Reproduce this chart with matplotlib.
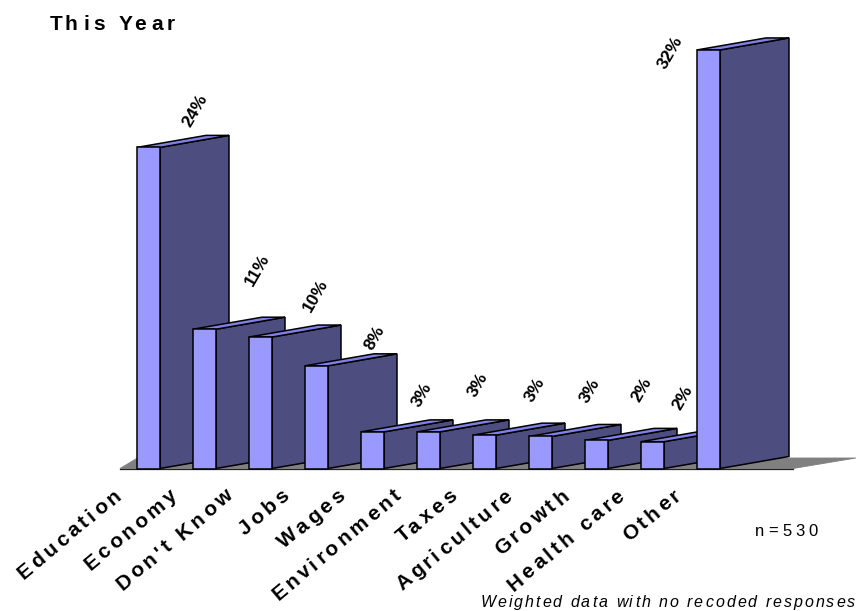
import numpy as np
import matplotlib
matplotlib.use("Agg")
import matplotlib.pyplot as plt
from matplotlib.patches import Polygon
from matplotlib.text import Text
from matplotlib.transforms import Bbox

plt.rcParams['font.family'] = ['Liberation Sans', 'DejaVu Sans']

categories = ["Education", "Economy", "Don't Know", "Jobs", "Wages", "Environment",
              "Taxes", "Agriculture", "Growth", "Health care", "Other"]
values = [24.55, 10.65, 10.05, 7.85, 2.8, 2.8, 2.55, 2.45, 2.15, 2.05, 32.0]
labels = ["24%", "11%", "10%", "8%", "3%", "3%", "3%", "3%", "2%", "2%", "32%"]

# axes fill the figure, scale set so one category is 56 px and 1% is 13.08 px
W, H = 856, 611
PX_X, PX_Y = 56.0, 13.08
X0, Y0 = 148.5, 468.5
DEPTH_X, DEPTH_Y = 69 / PX_X, 12 / PX_Y
BAR_W = 23 / PX_X

# label offsets from the bar's top centre, in px
label_off = [(46.5, 37), (52.5, 59), (55.5, 41), (58.5, 28), (49.5, 37), (49.5, 47),
             (50.5, 45), (49.5, 46), (45.5, 51), (30.5, 44), (-38.5, -3)]


class TrackedText(Text):
    """Text with extra px between letters, the string stays whole"""

    def __init__(self, *args, tracking=0, **kwargs):
        super().__init__(*args, **kwargs)
        self.tracking = tracking

    def _advances(self, renderer):
        s = self.get_text()
        fp = self.get_fontproperties()
        dot = renderer.get_text_width_height_descent(".", fp, False)[0]
        adv = [renderer.get_text_width_height_descent(s[:i] + ".", fp, False)[0] - dot + i * self.tracking
               for i in range(len(s))]
        total = renderer.get_text_width_height_descent(s, fp, False)[0] + (len(s) - 1) * self.tracking
        shift = {'left': 0, 'center': total / 2, 'right': total}[self.get_ha()]
        return np.array(adv) - shift, total, shift

    def draw(self, renderer):
        if not self.get_visible():
            return
        adv, _, _ = self._advances(renderer)
        x, y = self.get_transform().transform(self.get_position())
        a = np.radians(self.get_rotation())
        canvas_h = renderer.get_canvas_width_height()[1]
        gc = renderer.new_gc()
        gc.set_foreground(self.get_color())
        for ch, d in zip(self.get_text(), adv):
            renderer.draw_text(gc, x + d * np.cos(a), canvas_h - (y + d * np.sin(a)), ch,
                               self.get_fontproperties(), self.get_rotation(), ismath=False)
        gc.restore()

    def get_window_extent(self, renderer=None, dpi=None):
        renderer = renderer or self.get_figure().canvas.get_renderer()
        _, total, shift = self._advances(renderer)
        h = renderer.get_text_width_height_descent("Ag", self.get_fontproperties(), False)[1]
        x, y = self.get_transform().transform(self.get_position())
        a = np.radians(self.get_rotation())
        c, s = np.cos(a), np.sin(a)
        pts = [(x + u * c - v * s, y + u * s + v * c) for u in (-shift, total - shift) for v in (0, h)]
        return Bbox.from_extents(min(p[0] for p in pts), min(p[1] for p in pts),
                                 max(p[0] for p in pts), max(p[1] for p in pts))


fig = plt.figure(figsize=(W / 100, H / 100), dpi=100)
ax = fig.add_axes([0, 0, 1, 1])
ax.set_xlim(-X0 / PX_X, (W - X0) / PX_X)
ax.set_ylim((Y0 - H) / PX_Y, Y0 / PX_Y)
ax.axis('off')

# floor
ax.add_patch(Polygon([(-28.5 / PX_X, 0), (644.5 / PX_X, 0), (707.5 / PX_X, DEPTH_Y * 0.875),
                      (-11 / PX_X, DEPTH_Y * 0.875)],
                     closed=True, fc='#808080', ec='#808080', lw=0.6, zorder=1))
ax.plot([-28.5 / PX_X, 644.5 / PX_X], [0, 0], color='#222222', lw=0.9, zorder=1.5)

for i, v in enumerate(values):
    l, r = i - BAR_W / 2, i + BAR_W / 2
    z = 2 + i
    ax.add_patch(Polygon([(r, 0), (r + DEPTH_X, DEPTH_Y), (r + DEPTH_X, v + DEPTH_Y), (r, v)],
                         closed=True, fc='#4D4D80', ec='black', lw=1.1, zorder=z))
    ax.add_patch(Polygon([(l, v), (l + DEPTH_X, v + DEPTH_Y), (r + DEPTH_X, v + DEPTH_Y), (r, v)],
                         closed=True, fc='#8080E6', ec='black', lw=1.1, zorder=z))
    ax.bar(i, v, width=BAR_W, color='#9999FF', edgecolor='black', linewidth=1.1, zorder=z + 0.5)
    ax.annotate(labels[i], (i, v), xytext=(label_off[i][0] * 0.72, label_off[i][1] * 0.72),
                textcoords='offset points', rotation=60, ha='center', va='center',
                fontsize=12.5, fontweight='bold', zorder=30)
    ax.add_artist(TrackedText(i - 26.5 / PX_X, -29 / PX_Y, categories[i], tracking=3.4, rotation=40,
                              ha='right', va='baseline', fontsize=15, fontweight='bold', zorder=30))

fig.add_artist(TrackedText(50 / W, 1 - 30 / H, "This Year", tracking=4, fontsize=15,
                           fontweight='bold', transform=fig.transFigure))
fig.add_artist(TrackedText(755 / W, 1 - 536 / H, "n=530", tracking=4, fontsize=12,
                           transform=fig.transFigure))
fig.add_artist(TrackedText(855 / W, 1 - 607 / H, "Weighted data with no recoded responses", tracking=2,
                           fontsize=11.5, style='italic', ha='right', transform=fig.transFigure))

fig.savefig('out.png', dpi=100)
